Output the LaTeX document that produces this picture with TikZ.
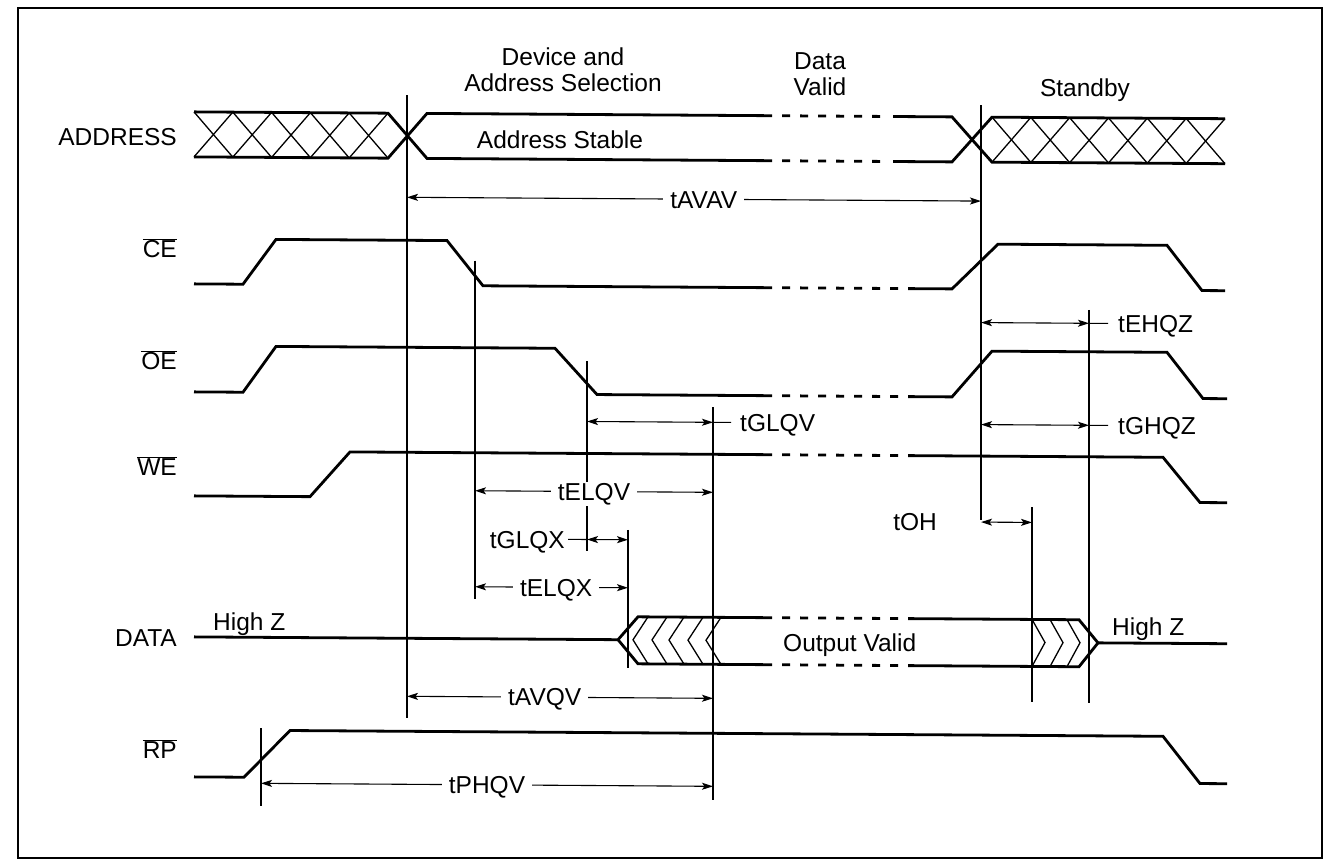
\documentclass[tikz,border=0pt]{standalone}
\usepackage{fontspec}
\setmainfont{Liberation Sans}
\usetikzlibrary{arrows.meta}
\newcommand{\ovl}[1]{$\overline{\mbox{#1}}$}
\begin{document}
\begin{tikzpicture}[x=1pt,y=-1pt,
  sig/.style={line width=2.8pt, line join=miter},
  sigd/.style={line width=2.8pt, dash pattern=on 8pt off 10pt},
  hatch/.style={line width=1.3pt},
  vline/.style={line width=1.1pt},
  dim/.style={line width=1.1pt, {Stealth[length=11pt,width=7pt,inset=2.5pt]}-{Stealth[length=11pt,width=7pt,inset=2.5pt]}},
  thin/.style={line width=1.1pt},
  lbl/.style={font=\fontsize{24.5}{28}\selectfont, inner sep=0pt},
  albl/.style={lbl, fill=white, inner xsep=7pt, inner ysep=1pt, anchor=base, yshift=-8.75pt},
]
\useasboundingbox (0,0) rectangle (1330,866);
\draw[line width=1.4pt] (18,8) rectangle (1322,858);
\begin{scope}[shift={(665,0)}, yslant=-0.0066, shift={(-665,0)}]
% ---------- header labels
\node[lbl, anchor=base] (hdev) at (563,66) {Device and};
\node[lbl, anchor=base] (hsel) at (563,92) {Address Selection};
\node[lbl, anchor=base] (hdata) at (820,68) {Data};
\node[lbl, anchor=base] (hvalid) at (820,94) {Valid};
\node[lbl, anchor=base] (hstb) at (1085,94) {Standby};
% ---------- signal names
\node[lbl, anchor=base east] (nA) at (177,149) {ADDRESS};
\node[lbl, anchor=base east] (nCE) at (177,261) {\ovl{CE}};
\node[lbl, anchor=base east] (nOE) at (177,373) {\ovl{OE}};
\node[lbl, anchor=base east] (nWE) at (177,479) {\ovl{WE}};
\node[lbl, anchor=base east] (nD) at (177,650) {DATA};
\node[lbl, anchor=base east] (nRP) at (177,762) {\ovl{RP}};
% ---------- ADDRESS
\foreach \i in {0,...,4}{
  \draw[hatch] ({194+38.8*\i},115) -- ({194+38.8*(\i+1)},160);
  \draw[hatch] ({194+38.8*\i},160) -- ({194+38.8*(\i+1)},115);}
\foreach \i in {0,...,5}{
  \draw[hatch] ({992+38.83*\i},115) -- ({992+38.83*(\i+1)},160);
  \draw[hatch] ({992+38.83*\i},160) -- ({992+38.83*(\i+1)},115);}
\draw[sig] (194,115) -- (388,115) -- (427,160) -- (772,160);
\draw[sig] (194,160) -- (388,160) -- (427,115) -- (772,115);
\draw[sigd] (782,115) -- (881,115);
\draw[sigd] (782,160) -- (881,160);
\draw[sig] (893,115) -- (952,115) -- (992,160) -- (1225,160);
\draw[sig] (893,160) -- (952,160) -- (992,115) -- (1225,115);
\node[lbl, anchor=base] (astab) at (560,149) {Address Stable};
% ---------- CE
\draw[sig] (194,287) -- (243,287) -- (276,242) -- (447,242) -- (483,287) -- (772,287);
\draw[sigd] (782,287) -- (898,287);
\draw[sig] (908,287) -- (952,287) -- (998,242) -- (1167,242) -- (1202,287) -- (1225,287);
% ---------- OE
\draw[sig] (194,395) -- (243,395) -- (276,349) -- (555,349) -- (597,395) -- (772,395);
\draw[sigd] (782,395) -- (898,395);
\draw[sig] (908,395) -- (952,395) -- (992,349) -- (1167,349) -- (1203,395) -- (1227,395);
% ---------- WE
\draw[sig] (194,499) -- (310,499) -- (350,454) -- (772,454);
\draw[sigd] (782,454) -- (898,454);
\draw[sig] (908,454) -- (1163,454) -- (1200,499) -- (1227,499);
% ---------- DATA
\foreach \a in {633,652,669,688,706}{
  \draw[hatch] (\a+15,617) -- (\a,640) -- (\a+15,664);}
\foreach \a in {1032,1050,1067}{
  \draw[hatch] (\a,617) -- (\a+13,640) -- (\a,664);}
\draw[sig] (194,640) -- (618,640) -- (638,617) -- (772,617);
\draw[sig] (618,640) -- (638,664) -- (772,664);
\draw[sigd] (782,617) -- (898,617);
\draw[sigd] (782,664) -- (898,664);
\draw[sig] (908,617) -- (1079,617) -- (1098,640) -- (1227,640);
\draw[sig] (908,664) -- (1079,664) -- (1098,640);
\node[lbl, anchor=base west] (hz1) at (213,633) {High Z};
\node[lbl, anchor=base west] (hz2) at (1112,633) {High Z};
\node[lbl, anchor=base west] (ov) at (783,651) {Output Valid};
% ---------- RP
\draw[sig] (194,780) -- (244,780) -- (290,733) -- (1163,733) -- (1200,780) -- (1227,780);
% ---------- vertical reference lines
\coordinate (V1t) at (407,97);  \coordinate (V1b) at (407,720);
\coordinate (V2t) at (981,103); \coordinate (V2b) at (981,518);
\coordinate (V3t) at (475,262); \coordinate (V3b) at (475,600);
\coordinate (V4t) at (587,362); \coordinate (V4b) at (587,552);
\coordinate (V5t) at (628,530); \coordinate (V5b) at (628,668);
\coordinate (V6t) at (713,407); \coordinate (V6b) at (713,800);
\coordinate (V7t) at (261,731); \coordinate (V7b) at (261,809);
\coordinate (V8t) at (1032,505); \coordinate (V8b) at (1032,700);
\coordinate (V9t) at (1089,307); \coordinate (V9b) at (1089,700);
\foreach \v in {1,...,9}{\draw[vline] (V\v t) -- (V\v b);}
% ---------- timing arrows
\draw[dim] (V1t |- 0,199) -- node[albl, pos=.517] (tavav) {tAVAV} (V2t |- 0,199);
\draw[dim] (V2t |- 0,320.5) -- (V9t |- 0,320.5);
\node[lbl, anchor=base west] (tehqz) at (1118,329.5) {tEHQZ};
\draw[thin] (V9t |- 0,320.5) -- ([xshift=-10pt]tehqz.west |- 0,320.5);
\draw[dim] (V4t |- 0,422) -- (V6t |- 0,422);
\node[lbl, anchor=base west] (tglqv) at (740,431) {tGLQV};
\draw[thin] (V6t |- 0,422) -- ([xshift=-9pt]tglqv.west |- 0,422);
\draw[dim] (V2t |- 0,422.5) -- (V9t |- 0,422.5);
\node[lbl, anchor=base west] (tghqz) at (1118,431.5) {tGHQZ};
\draw[thin] (V9t |- 0,422.5) -- ([xshift=-10pt]tghqz.west |- 0,422.5);
\draw[dim] (V3t |- 0,492) -- node[albl, pos=.5] (telqv) {tELQV} (V6t |- 0,492);
\draw[dim] (V4t |- 0,540) -- (V5t |- 0,540);
\node[lbl, anchor=base east] (tglqx) at (565,549) {tGLQX};
\draw[thin] ([xshift=3pt]tglqx.east |- 0,540) -- (V4t |- 0,540);
\draw[dim] (V3t |- 0,588) -- node[albl, pos=.53] (telqx) {tELQX} (V5t |- 0,588);
\draw[dim] (V2t |- 0,520) -- (V8t |- 0,520);
\node[lbl, anchor=base east] (toh) at (937,529) {tOH};
\draw[dim] (V1t |- 0,698) -- node[albl, pos=.45] (tavqv) {tAVQV} (V6t |- 0,698);
\draw[dim] (V7t |- 0,786) -- node[albl, pos=.5] (tphqv) {tPHQV} (V6t |- 0,786);
\end{scope}
\end{tikzpicture}
\end{document}
